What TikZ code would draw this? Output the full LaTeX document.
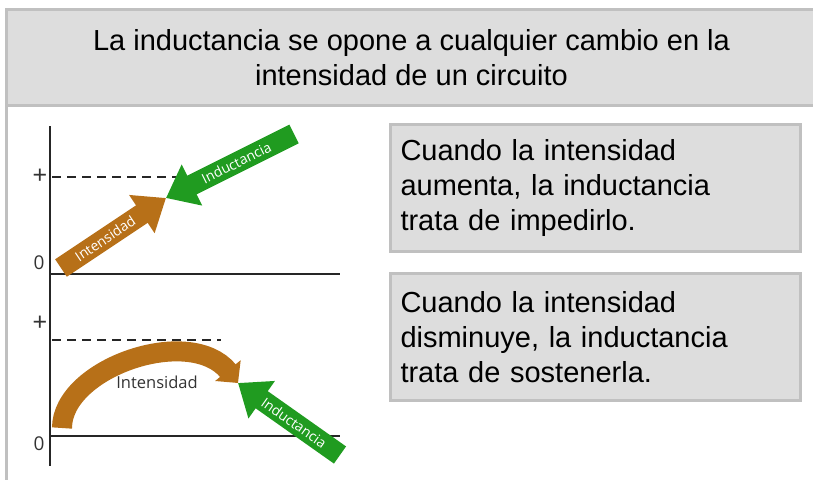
\documentclass[tikz,border=0pt]{standalone}
\usepackage{fontspec}
\setmainfont{Liberation Sans}
\newfontfamily\figfont{Open Sans}
\usetikzlibrary{arrows.meta}
\definecolor{gris}{RGB}{221,221,221}
\definecolor{borde}{RGB}{192,192,192}
\definecolor{marron}{RGB}{183,112,24}
\definecolor{verde}{RGB}{32,155,32}

\begin{document}
\begin{tikzpicture}[
    x=1pt, y=-1pt,
    cabecera/.style={rectangle, draw=borde, fill=gris, line width=3pt, anchor=north west,
        minimum width=810pt, minimum height=96pt, align=center,
        font=\fontsize{29}{35}\selectfont},
    caja/.style={rectangle, draw=borde, fill=gris, line width=3pt, anchor=north west,
        minimum width=410pt, minimum height=127pt, inner xsep=10pt, text width=390pt,
        align=left, font=\fontsize{29}{35}\selectfont},
    eje/.style={line width=1.6pt, black!85},
    nivel/.style={line width=1.8pt, black!85, dash pattern=on 9pt off 6pt},
    marca/.style={font=\figfont\fontsize{19}{19}\selectfont, text=black!80, inner sep=0pt},
    signo/.style={font=\fontsize{25}{25}\selectfont, text=black!80, inner sep=0pt},
    flecha/.style={line width=21pt, -{Triangle[length=29pt, width=44pt]}},
    curva/.style={line width=20pt, -{Triangle[length=16pt, width=32pt]}},
    rotulo/.style={sloped, text=white, font=\figfont\fontsize{14}{14}\selectfont, inner sep=0pt}
]
    \useasboundingbox (0,0) rectangle (813,479);

    % cabecera y borde izquierdo de la tabla
    \node[cabecera] (titulo) at (5,8)
        {La inductancia se opone a cualquier cambio en la\\intensidad de un circuito};
    \coordinate (pie) at (6.5,482);
    \draw[borde, line width=3pt] (titulo.south west) ++(1.5,0) -- (pie);

    % cuadros de texto
    \node[caja] (caja1) at (389,123)
        {Cuando la intensidad\\aumenta, la inductancia\\trata de impedirlo.};
    \node[caja] (caja2) at (389,272)
        {Cuando la intensidad\\disminuye, la inductancia\\trata de sostenerla.};

    % ejes
    \coordinate (ejeA) at (50,126);
    \coordinate (ejeB) at (50,466);
    \coordinate (o1) at (50,274);
    \coordinate (x1) at (340,274);
    \coordinate (o2) at (50,436);
    \coordinate (x2) at (340,436);
    \draw[eje] (ejeA) -- (ejeB);
    \draw[eje] (o1) -- (x1);
    \draw[eje] (o2) -- (x2);

    % niveles maximos
    \coordinate (d1a) at (52,177);
    \coordinate (d1b) at (198,177);
    \coordinate (d2a) at (52,340);
    \coordinate (d2b) at (221,340);
    \draw[nivel] (d1a) -- (d1b);
    \draw[nivel] (d2a) -- (d2b);

    \node[signo] (mas1) at (40,176) {+};
    \node[marca] (cero1) at (39,263) {0};
    \node[signo] (mas2) at (40,323) {+};
    \node[marca] (cero2) at (39,444) {0};

    % 1. la intensidad aumenta, la inductancia se opone
    \coordinate (i1) at (61,268);
    \coordinate (m1) at (166,198);
    \coordinate (g1) at (294,134);
    \draw[flecha, marron] (i1) -- node[rotulo, pos=0.42] {Intensidad} (m1);
    \draw[flecha, verde] (g1) -- node[rotulo, pos=0.45] {Inductancia} (m1);

    % 2. la intensidad disminuye, la inductancia la sostiene
    \coordinate (i2) at (62,428);
    \coordinate (m2) at (238,383);
    \coordinate (g2) at (340,455);
    \draw[curva, marron] (i2) .. controls (62,368) and (190,324) .. (m2);
    \node[font=\figfont\fontsize{16.5}{16.5}\selectfont, text=black!80] (txt2) at (157,382) {Intensidad};
    \draw[flecha, verde] (g2) -- node[rotulo, pos=0.45] {Inductancia} (m2);

\end{tikzpicture}
\end{document}
